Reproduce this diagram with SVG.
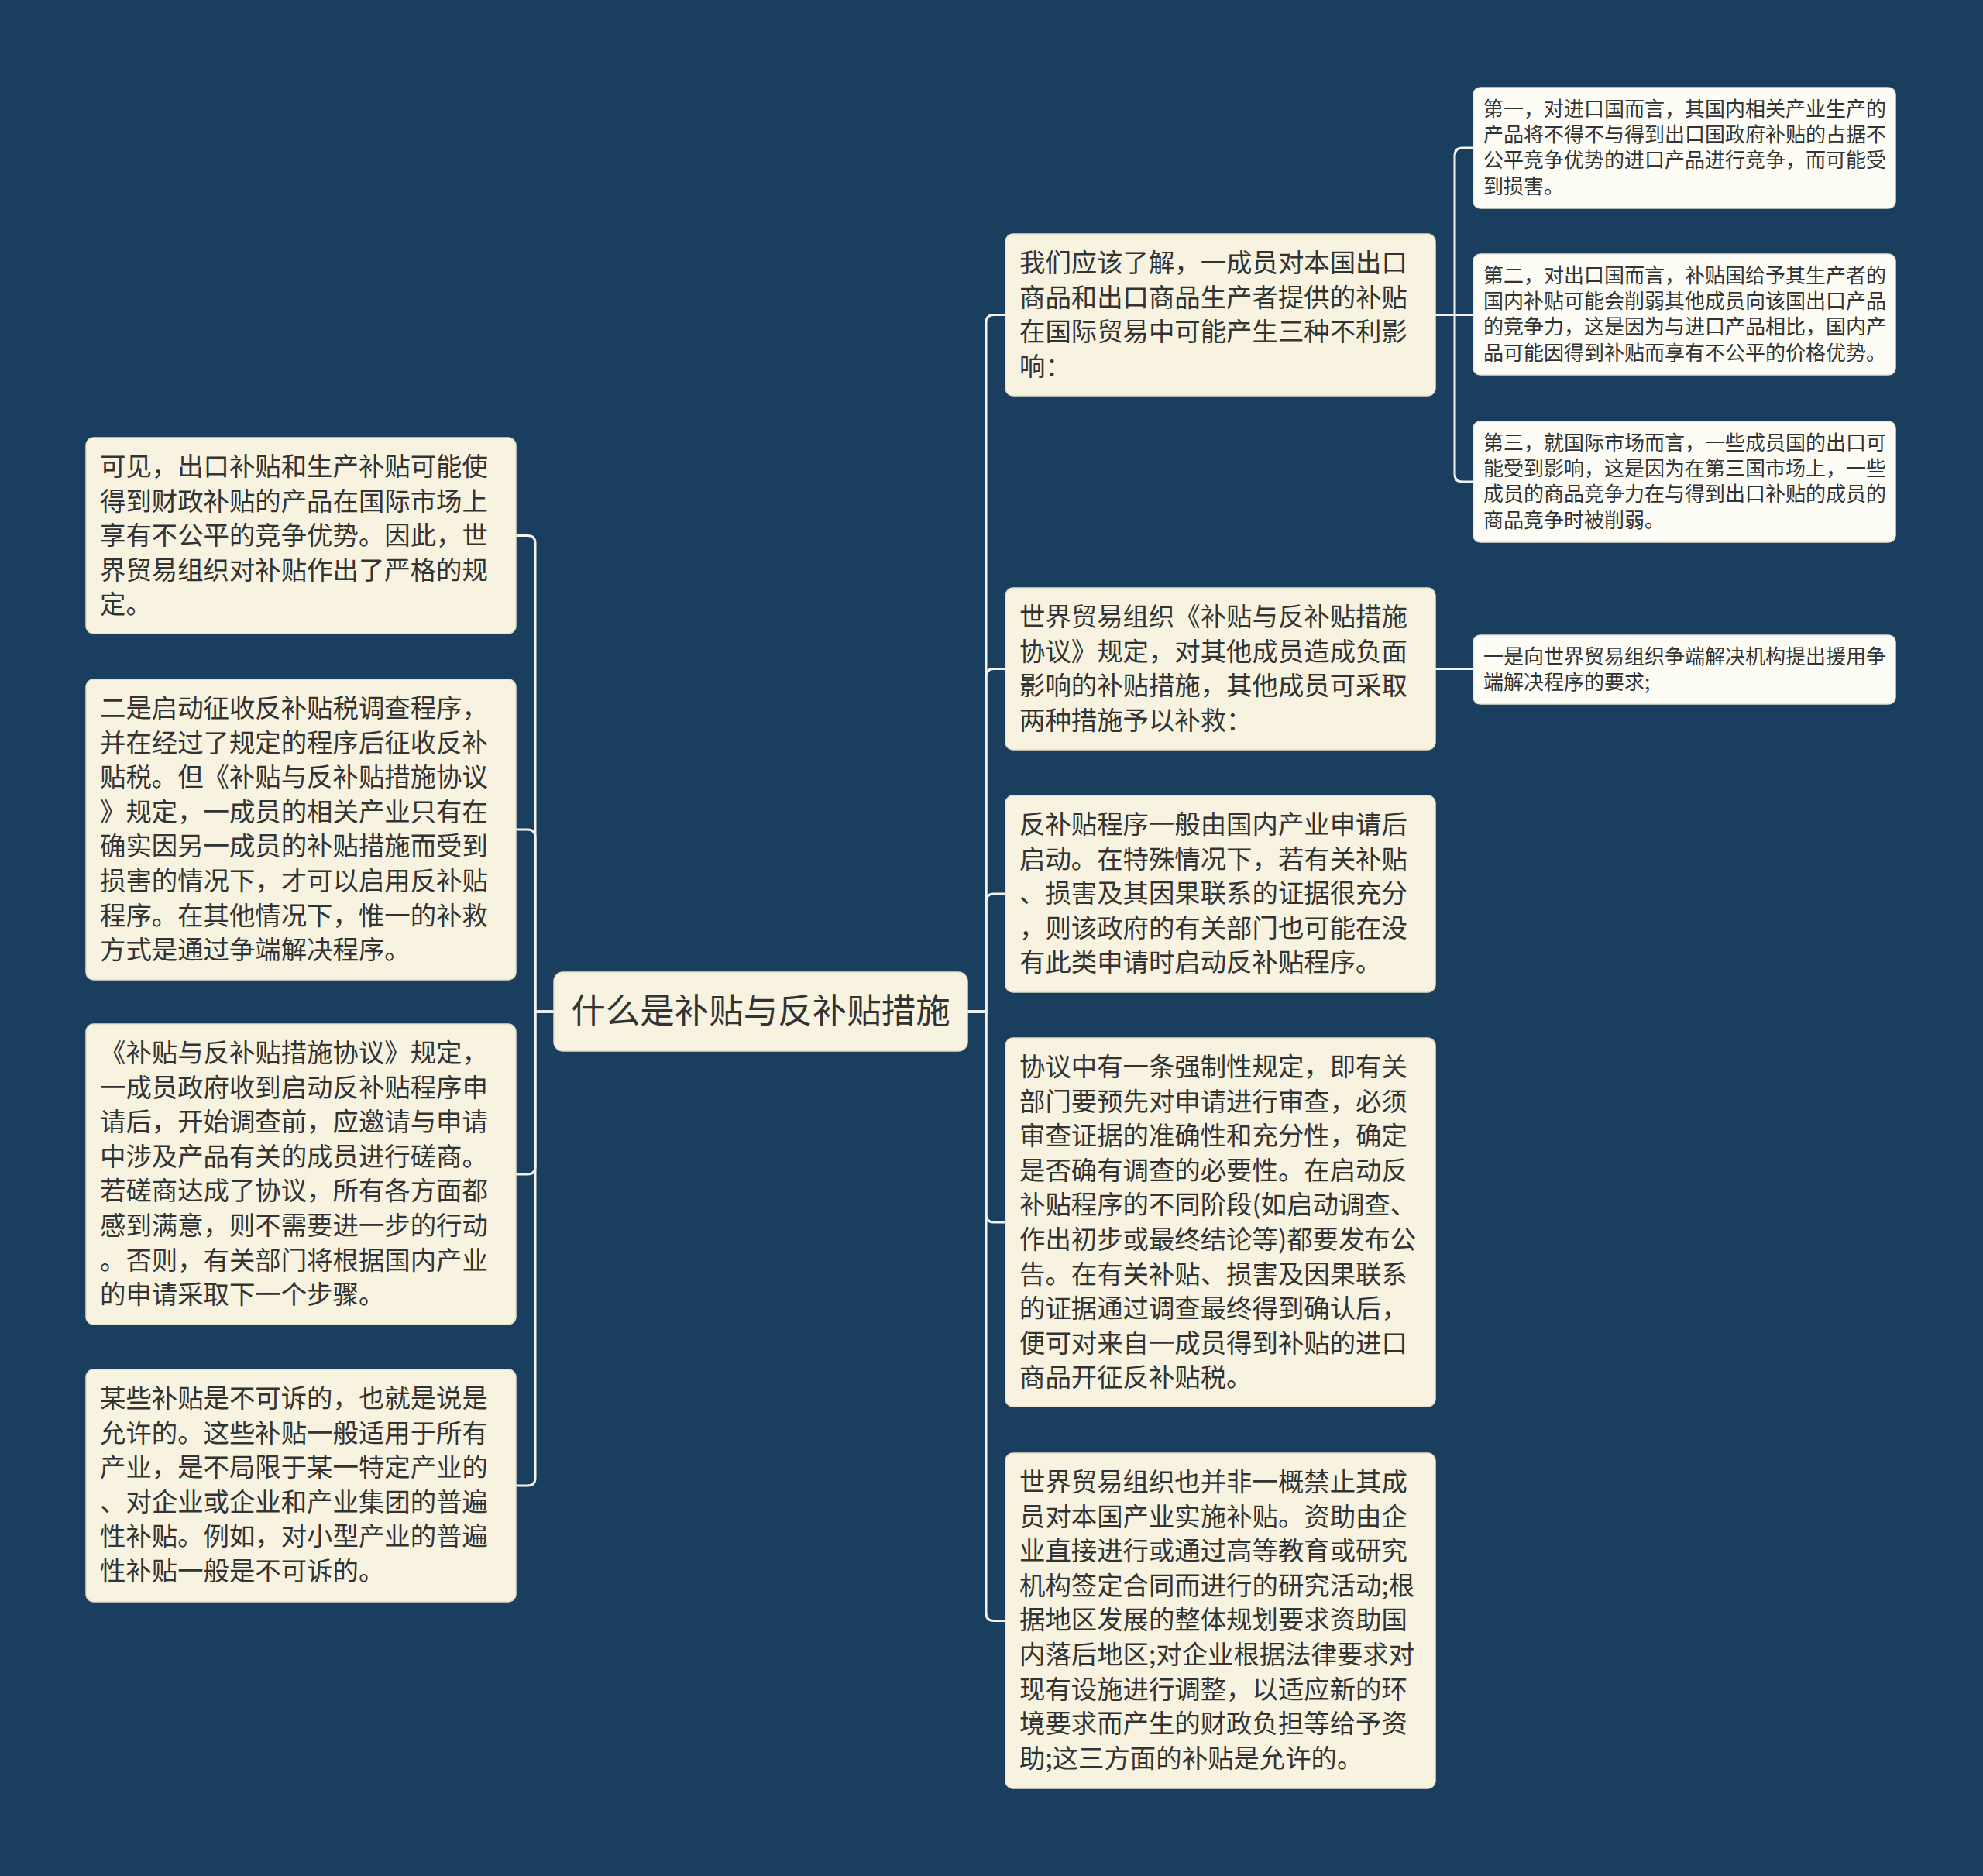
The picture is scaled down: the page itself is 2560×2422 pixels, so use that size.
<svg xmlns="http://www.w3.org/2000/svg" width="2560" height="2422" viewBox="0 0 2560 2422">
<style>
.bg{fill:#1a3e5e}
.n{fill:#f8f3e0;stroke:#e6dfc6;stroke-width:1.5}
.f{fill:#fdfcf5;stroke:#e6e3d6;stroke-width:1.5}
.t{font-family:"Noto Sans CJK SC","Noto Sans",sans-serif;font-size:33.4px;fill:#333333}
.s{font-family:"Noto Sans CJK SC","Noto Sans",sans-serif;font-size:26px;fill:#333333}
.r{font-family:"Noto Sans CJK SC","Noto Sans",sans-serif;font-size:44.5px;fill:#333333}
.c{fill:none;stroke:#f2f2f2;stroke-width:3}
</style>
<rect class="bg" x="0" y="0" width="2560" height="2422"/>
<g id="connectors">
<path class="c" d="M1249 1306 H1273 V416.5 Q1273 406.5 1283 406.5 H1298"/>
<path class="c" d="M1249 1306 H1273 V873.5 Q1273 863.5 1283 863.5 H1298"/>
<path class="c" d="M1249 1306 H1273 V1164 Q1273 1154 1283 1154 H1298"/>
<path class="c" d="M1249 1306 H1273 V1568 Q1273 1578 1283 1578 H1298"/>
<path class="c" d="M1249 1306 H1273 V2082.5 Q1273 2092.5 1283 2092.5 H1298"/>
<path class="c" d="M715 1306 H691 V701.5 Q691 691.5 681 691.5 H666"/>
<path class="c" d="M715 1306 H691 V1081 Q691 1071 681 1071 H666"/>
<path class="c" d="M715 1306 H691 V1506 Q691 1516 681 1516 H666"/>
<path class="c" d="M715 1306 H691 V1908 Q691 1918 681 1918 H666"/>
<path class="c" d="M1853 406.5 H1878 V201 Q1878 191 1888 191 H1902"/>
<path class="c" d="M1853 406.5 H1902"/>
<path class="c" d="M1853 406.5 H1878 V612 Q1878 622 1888 622 H1902"/>
<path class="c" d="M1853 863.5 H1902"/>
</g>
<g id="root">
<rect class="n" x="715" y="1255" width="534" height="102" rx="12"/>
<text class="r" x="982" y="1321" text-anchor="middle">什么是补贴与反补贴措施</text>
</g>
<g id="r1">
<rect class="n" x="1298" y="302" width="555" height="209" rx="10"/>
<text class="t" x="1316" y="351"><tspan x="1316" dy="0">我们应该了解，一成员对本国出口</tspan><tspan x="1316" dy="44.6">商品和出口商品生产者提供的补贴</tspan><tspan x="1316" dy="44.6">在国际贸易中可能产生三种不利影</tspan><tspan x="1316" dy="44.6">响：</tspan></text>
</g>
<g id="r2">
<rect class="n" x="1298" y="759" width="555" height="209" rx="10"/>
<text class="t" x="1316" y="808"><tspan x="1316" dy="0">世界贸易组织《补贴与反补贴措施</tspan><tspan x="1316" dy="44.6">协议》规定，对其他成员造成负面</tspan><tspan x="1316" dy="44.6">影响的补贴措施，其他成员可采取</tspan><tspan x="1316" dy="44.6">两种措施予以补救：</tspan></text>
</g>
<g id="r3">
<rect class="n" x="1298" y="1027" width="555" height="254" rx="10"/>
<text class="t" x="1316" y="1076"><tspan x="1316" dy="0">反补贴程序一般由国内产业申请后</tspan><tspan x="1316" dy="44.6">启动。在特殊情况下，若有关补贴</tspan><tspan x="1316" dy="44.6">、损害及其因果联系的证据很充分</tspan><tspan x="1316" dy="44.6">，则该政府的有关部门也可能在没</tspan><tspan x="1316" dy="44.6">有此类申请时启动反补贴程序。</tspan></text>
</g>
<g id="r4">
<rect class="n" x="1298" y="1340" width="555" height="476" rx="10"/>
<text class="t" x="1316" y="1389"><tspan x="1316" dy="0">协议中有一条强制性规定，即有关</tspan><tspan x="1316" dy="44.6">部门要预先对申请进行审查，必须</tspan><tspan x="1316" dy="44.6">审查证据的准确性和充分性，确定</tspan><tspan x="1316" dy="44.6">是否确有调查的必要性。在启动反</tspan><tspan x="1316" dy="44.6">补贴程序的不同阶段(如启动调查、</tspan><tspan x="1316" dy="44.6">作出初步或最终结论等)都要发布公</tspan><tspan x="1316" dy="44.6">告。在有关补贴、损害及因果联系</tspan><tspan x="1316" dy="44.6">的证据通过调查最终得到确认后，</tspan><tspan x="1316" dy="44.6">便可对来自一成员得到补贴的进口</tspan><tspan x="1316" dy="44.6">商品开征反补贴税。</tspan></text>
</g>
<g id="r5">
<rect class="n" x="1298" y="1876" width="555" height="433" rx="10"/>
<text class="t" x="1316" y="1925"><tspan x="1316" dy="0">世界贸易组织也并非一概禁止其成</tspan><tspan x="1316" dy="44.6">员对本国产业实施补贴。资助由企</tspan><tspan x="1316" dy="44.6">业直接进行或通过高等教育或研究</tspan><tspan x="1316" dy="44.6">机构签定合同而进行的研究活动;根</tspan><tspan x="1316" dy="44.6">据地区发展的整体规划要求资助国</tspan><tspan x="1316" dy="44.6">内落后地区;对企业根据法律要求对</tspan><tspan x="1316" dy="44.6">现有设施进行调整，以适应新的环</tspan><tspan x="1316" dy="44.6">境要求而产生的财政负担等给予资</tspan><tspan x="1316" dy="44.6">助;这三方面的补贴是允许的。</tspan></text>
</g>
<g id="l1">
<rect class="n" x="111" y="565" width="555" height="253" rx="10"/>
<text class="t" x="129" y="614"><tspan x="129" dy="0">可见，出口补贴和生产补贴可能使</tspan><tspan x="129" dy="44.6">得到财政补贴的产品在国际市场上</tspan><tspan x="129" dy="44.6">享有不公平的竞争优势。因此，世</tspan><tspan x="129" dy="44.6">界贸易组织对补贴作出了严格的规</tspan><tspan x="129" dy="44.6">定。</tspan></text>
</g>
<g id="l2">
<rect class="n" x="111" y="877" width="555" height="388" rx="10"/>
<text class="t" x="129" y="926"><tspan x="129" dy="0">二是启动征收反补贴税调查程序，</tspan><tspan x="129" dy="44.6">并在经过了规定的程序后征收反补</tspan><tspan x="129" dy="44.6">贴税。但《补贴与反补贴措施协议</tspan><tspan x="129" dy="44.6">》规定，一成员的相关产业只有在</tspan><tspan x="129" dy="44.6">确实因另一成员的补贴措施而受到</tspan><tspan x="129" dy="44.6">损害的情况下，才可以启用反补贴</tspan><tspan x="129" dy="44.6">程序。在其他情况下，惟一的补救</tspan><tspan x="129" dy="44.6">方式是通过争端解决程序。</tspan></text>
</g>
<g id="l3">
<rect class="n" x="111" y="1322" width="555" height="388" rx="10"/>
<text class="t" x="129" y="1371"><tspan x="129" dy="0">《补贴与反补贴措施协议》规定，</tspan><tspan x="129" dy="44.6">一成员政府收到启动反补贴程序申</tspan><tspan x="129" dy="44.6">请后，开始调查前，应邀请与申请</tspan><tspan x="129" dy="44.6">中涉及产品有关的成员进行磋商。</tspan><tspan x="129" dy="44.6">若磋商达成了协议，所有各方面都</tspan><tspan x="129" dy="44.6">感到满意，则不需要进一步的行动</tspan><tspan x="129" dy="44.6">。否则，有关部门将根据国内产业</tspan><tspan x="129" dy="44.6">的申请采取下一个步骤。</tspan></text>
</g>
<g id="l4">
<rect class="n" x="111" y="1768" width="555" height="300" rx="10"/>
<text class="t" x="129" y="1817"><tspan x="129" dy="0">某些补贴是不可诉的，也就是说是</tspan><tspan x="129" dy="44.6">允许的。这些补贴一般适用于所有</tspan><tspan x="129" dy="44.6">产业，是不局限于某一特定产业的</tspan><tspan x="129" dy="44.6">、对企业或企业和产业集团的普遍</tspan><tspan x="129" dy="44.6">性补贴。例如，对小型产业的普遍</tspan><tspan x="129" dy="44.6">性补贴一般是不可诉的。</tspan></text>
</g>
<g id="f1">
<rect class="f" x="1902" y="113" width="545" height="156" rx="9"/>
<text class="s" x="1915" y="150"><tspan x="1915" dy="0">第一，对进口国而言，其国内相关产业生产的</tspan><tspan x="1915" dy="33.2">产品将不得不与得到出口国政府补贴的占据不</tspan><tspan x="1915" dy="33.2">公平竞争优势的进口产品进行竞争，而可能受</tspan><tspan x="1915" dy="33.2">到损害。</tspan></text>
</g>
<g id="f2">
<rect class="f" x="1902" y="328" width="545" height="156" rx="9"/>
<text class="s" x="1915" y="365"><tspan x="1915" dy="0">第二，对出口国而言，补贴国给予其生产者的</tspan><tspan x="1915" dy="33.2">国内补贴可能会削弱其他成员向该国出口产品</tspan><tspan x="1915" dy="33.2">的竞争力，这是因为与进口产品相比，国内产</tspan><tspan x="1915" dy="33.2">品可能因得到补贴而享有不公平的价格优势。</tspan></text>
</g>
<g id="f3">
<rect class="f" x="1902" y="544" width="545" height="156" rx="9"/>
<text class="s" x="1915" y="581"><tspan x="1915" dy="0">第三，就国际市场而言，一些成员国的出口可</tspan><tspan x="1915" dy="33.2">能受到影响，这是因为在第三国市场上，一些</tspan><tspan x="1915" dy="33.2">成员的商品竞争力在与得到出口补贴的成员的</tspan><tspan x="1915" dy="33.2">商品竞争时被削弱。</tspan></text>
</g>
<g id="f4">
<rect class="f" x="1902" y="820" width="545" height="89" rx="9"/>
<text class="s" x="1915" y="857"><tspan x="1915" dy="0">一是向世界贸易组织争端解决机构提出援用争</tspan><tspan x="1915" dy="33.2">端解决程序的要求;</tspan></text>
</g>
</svg>
